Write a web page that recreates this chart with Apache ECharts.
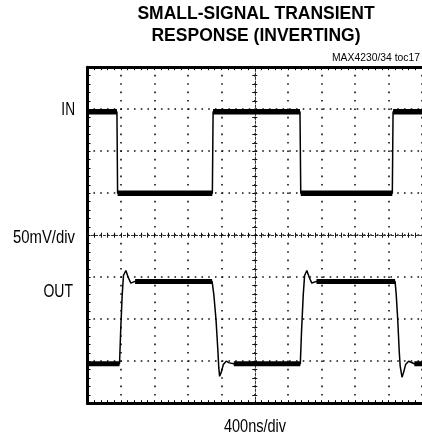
<!DOCTYPE html>
<html>
<head>
<meta charset="utf-8">
<script src="https://cdn.jsdelivr.net/npm/echarts@6/dist/echarts.min.js"></script>
<style>html,body{margin:0;padding:0;background:#fff}#c{width:422px;height:438px}</style>
</head>
<body>
<div id="c"></div>
<script>
// ---- data (time in ns, amplitude in mV) ----
const titleLines = ['SMALL-SIGNAL TRANSIENT', 'RESPONSE (INVERTING)'];
const noteText = 'MAX4230/34 toc17';
const inLabel = 'IN';
const scaleLabel = '50mV/div';
const outLabel = 'OUT';
const timeLabel = '400ns/div';

const timeRange = [-2000, 2000];   // 10 divisions of 400 ns
const timeStep = 400;
const mvRange = [-200, 200];       // 8 divisions of 50 mV
const mvStep = 50;

const inTrace = [
  [-2000, 147], [-1648, 147], [-1640, 50], [-507, 50], [-498, 147],
  [541, 147], [550, 50], [1645, 50], [1654, 147], [2000, 147]
];
const outTrace = [
  [-2000, -153], [-1617, -153], [-1603, -113], [-1585, -71], [-1570, -48],
  [-1541, -42], [-1514, -50], [-1482, -57], [-1431, -55], [-510, -55],
  [-489, -71], [-463, -101], [-441, -137], [-430, -158], [-420, -168],
  [-400, -163], [-376, -154], [-341, -150], [-305, -152], [-250, -153],
  [545, -153], [560, -113], [580, -71], [596, -48], [623, -42],
  [651, -50], [682, -57], [738, -55], [1678, -55], [1692, -71],
  [1710, -101], [1727, -137], [1739, -156], [1761, -169], [1781, -163],
  [1804, -154], [1840, -150], [1908, -153], [2000, -153]
];

// flat (noisy) parts of a trace, drawn thicker
function plateaus(trace) {
  const out = [];
  for (let i = 0; i < trace.length - 1; i++) {
    if (trace[i][1] === trace[i + 1][1]) {
      out.push(trace[i], trace[i + 1], '-');
    }
  }
  return out;
}

const FONT = '"Liberation Sans", Arial, sans-serif';
const chart = echarts.init(document.getElementById('c'), null, {renderer: 'canvas'});

const borderX = (pos) => ({
  type: 'value', min: timeRange[0], max: timeRange[1], interval: timeStep,
  position: pos, gridIndex: 0,
  axisLine: {show: true, onZero: false, lineStyle: {color: '#000', width: 3}},
  axisTick: {show: true, inside: true, length: 3, lineStyle: {color: '#000', width: 1}},
  minorTick: {show: true, splitNumber: 5, length: 3, lineStyle: {color: '#000', width: 1}},
  axisLabel: {show: false},
  splitLine: {show: pos === 'bottom', lineStyle: {color: '#111', width: 1.6, type: [1.6, 6.8], dashOffset: 0.8}}
});
const centerX = (pos) => ({
  type: 'value', min: timeRange[0], max: timeRange[1], interval: timeStep,
  position: pos, gridIndex: 0,
  axisLine: {show: true, onZero: true, onZeroAxisIndex: 0, lineStyle: {color: '#333', width: 1, type: [2, 2]}},
  axisTick: {show: true, inside: true, length: 2.5, lineStyle: {color: '#111', width: 1}},
  minorTick: {show: true, splitNumber: 5, length: 2.5, lineStyle: {color: '#111', width: 1}},
  axisLabel: {show: false},
  splitLine: {show: false}
});
const borderY = (pos) => ({
  type: 'value', min: mvRange[0], max: mvRange[1], interval: mvStep,
  position: pos, gridIndex: 0,
  axisLine: {show: true, onZero: false, lineStyle: {color: '#000', width: 3}},
  axisTick: {show: true, inside: true, length: 3, lineStyle: {color: '#000', width: 1}},
  minorTick: {show: true, splitNumber: 5, length: 3, lineStyle: {color: '#000', width: 1}},
  axisLabel: {show: false},
  splitLine: {show: true, lineStyle: {color: '#111', width: 1.6, type: [1.6, 5.15], dashOffset: 0.8}}
});
const centerY = (pos) => ({
  type: 'value', min: mvRange[0], max: mvRange[1], interval: mvStep,
  position: pos, gridIndex: 0,
  axisLine: {show: true, onZero: true, onZeroAxisIndex: 0, lineStyle: {color: '#333', width: 1, type: [2, 2]}},
  axisTick: {show: true, inside: true, length: 2.5, lineStyle: {color: '#111', width: 1}},
  minorTick: {show: true, splitNumber: 5, length: 2.5, lineStyle: {color: '#111', width: 1}},
  axisLabel: {show: false},
  splitLine: {show: false}
});

const labelStyle = (text, align) => ({
  text: text, font: '17.5px ' + FONT, fill: '#000', align: align, verticalAlign: 'middle'
});

const option = {
  backgroundColor: '#fff',
  animation: false,
  grid: {left: 87.5, top: 67.2, width: 337.5, height: 336, containLabel: false},
  xAxis: [borderX('bottom'), borderX('top'), centerX('bottom'), centerX('top')],
  yAxis: [borderY('left'), centerY('left'), centerY('right')],
  series: [
    {type: 'line', data: inTrace, xAxisIndex: 0, yAxisIndex: 0, symbol: 'none', silent: true,
     lineStyle: {color: '#000', width: 1.5}, z: 5},
    {type: 'line', data: plateaus(inTrace), xAxisIndex: 0, yAxisIndex: 0, symbol: 'none', silent: true,
     connectNulls: false, lineStyle: {color: '#000', width: 5.5}, z: 5},
    {type: 'line', data: outTrace, xAxisIndex: 0, yAxisIndex: 0, symbol: 'none', silent: true,
     lineStyle: {color: '#000', width: 1.5}, z: 5},
    {type: 'line', data: plateaus(outTrace), xAxisIndex: 0, yAxisIndex: 0, symbol: 'none', silent: true,
     connectNulls: false, lineStyle: {color: '#000', width: 5}, z: 5}
  ],
  graphic: [
    {type: 'text', x: 256, y: 13.7, style: {text: titleLines[0], font: 'bold 17.5px ' + FONT, fill: '#000', align: 'center', verticalAlign: 'middle'}},
    {type: 'text', x: 256, y: 36, style: {text: titleLines[1], font: 'bold 17.5px ' + FONT, fill: '#000', align: 'center', verticalAlign: 'middle'}},
    {type: 'text', x: 332, y: 57.8, scaleX: 0.94, style: {text: noteText, font: '11px ' + FONT, fill: '#000', align: 'left', verticalAlign: 'middle'}},
    {type: 'text', x: 75, y: 110, scaleX: 0.78, style: labelStyle(inLabel, 'right')},
    {type: 'text', x: 75, y: 238, scaleX: 0.85, style: labelStyle(scaleLabel, 'right')},
    {type: 'text', x: 73, y: 292.5, scaleX: 0.8, style: labelStyle(outLabel, 'right')},
    {type: 'text', x: 255, y: 427.5, scaleX: 0.83, style: labelStyle(timeLabel, 'center')}
  ]
};
chart.setOption(option);
</script>
</body>
</html>
